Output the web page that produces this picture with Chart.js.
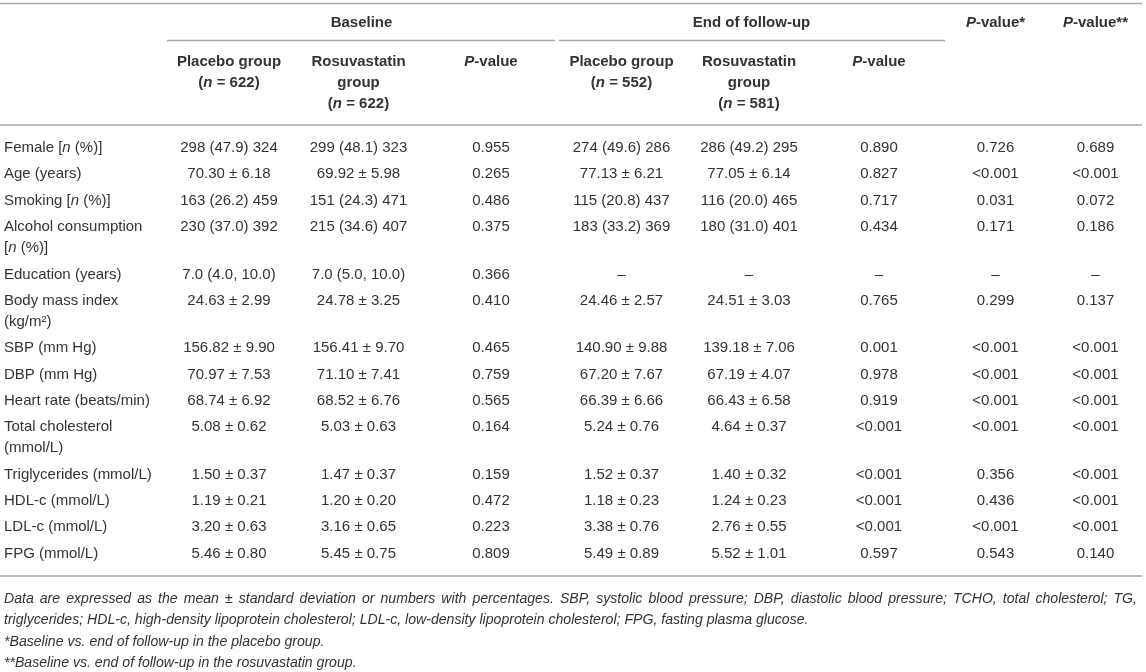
<!DOCTYPE html>
<html>
<head>
<meta charset="utf-8">
<script src="https://cdn.jsdelivr.net/npm/chart.js@4.4.1/dist/chart.umd.min.js"></script>
<style>
  html, body { margin: 0; padding: 0; background: #fff; }
</style>
</head>
<body>
<canvas id="tableChart" width="1146" height="672"></canvas>
<script>
// ---- table content (underscores mark italic text) ----
var rowLabels = [
  "Female [_n_ (%)]", "Age (years)", "Smoking [_n_ (%)]", "Alcohol consumption\n[_n_ (%)]",
  "Education (years)", "Body mass index\n(kg/m\u00b2)", "SBP (mm Hg)", "DBP (mm Hg)",
  "Heart rate (beats/min)", "Total cholesterol\n(mmol/L)", "Triglycerides (mmol/L)",
  "HDL-c (mmol/L)", "LDL-c (mmol/L)", "FPG (mmol/L)"
];
var placeboBase = ["298 (47.9) 324", "70.30 \u00b1 6.18", "163 (26.2) 459", "230 (37.0) 392", "7.0 (4.0, 10.0)", "24.63 \u00b1 2.99", "156.82 \u00b1 9.90", "70.97 \u00b1 7.53", "68.74 \u00b1 6.92", "5.08 \u00b1 0.62", "1.50 \u00b1 0.37", "1.19 \u00b1 0.21", "3.20 \u00b1 0.63", "5.46 \u00b1 0.80"];
var rosuBase = ["299 (48.1) 323", "69.92 \u00b1 5.98", "151 (24.3) 471", "215 (34.6) 407", "7.0 (5.0, 10.0)", "24.78 \u00b1 3.25", "156.41 \u00b1 9.70", "71.10 \u00b1 7.41", "68.52 \u00b1 6.76", "5.03 \u00b1 0.63", "1.47 \u00b1 0.37", "1.20 \u00b1 0.20", "3.16 \u00b1 0.65", "5.45 \u00b1 0.75"];
var pBase = ["0.955", "0.265", "0.486", "0.375", "0.366", "0.410", "0.465", "0.759", "0.565", "0.164", "0.159", "0.472", "0.223", "0.809"];
var placeboEnd = ["274 (49.6) 286", "77.13 \u00b1 6.21", "115 (20.8) 437", "183 (33.2) 369", "\u2013", "24.46 \u00b1 2.57", "140.90 \u00b1 9.88", "67.20 \u00b1 7.67", "66.39 \u00b1 6.66", "5.24 \u00b1 0.76", "1.52 \u00b1 0.37", "1.18 \u00b1 0.23", "3.38 \u00b1 0.76", "5.49 \u00b1 0.89"];
var rosuEnd = ["286 (49.2) 295", "77.05 \u00b1 6.14", "116 (20.0) 465", "180 (31.0) 401", "\u2013", "24.51 \u00b1 3.03", "139.18 \u00b1 7.06", "67.19 \u00b1 4.07", "66.43 \u00b1 6.58", "4.64 \u00b1 0.37", "1.40 \u00b1 0.32", "1.24 \u00b1 0.23", "2.76 \u00b1 0.55", "5.52 \u00b1 1.01"];
var pEnd = ["0.890", "0.827", "0.717", "0.434", "\u2013", "0.765", "0.001", "0.978", "0.919", "<0.001", "<0.001", "<0.001", "<0.001", "0.597"];
var pPlacebo = ["0.726", "<0.001", "0.031", "0.171", "\u2013", "0.299", "<0.001", "<0.001", "<0.001", "<0.001", "0.356", "0.436", "<0.001", "0.543"];
var pRosu = ["0.689", "<0.001", "0.072", "0.186", "\u2013", "0.137", "<0.001", "<0.001", "<0.001", "<0.001", "<0.001", "<0.001", "<0.001", "0.140"];

var groupHeaders = ["Baseline", "End of follow-up", "_P_-value*", "_P_-value**"];
var colHeaders = ["Placebo group\n(_n_ = 622)", "Rosuvastatin\ngroup\n(_n_ = 622)", "_P_-value",
                  "Placebo group\n(_n_ = 552)", "Rosuvastatin\ngroup\n(_n_ = 581)", "_P_-value"];
var footnotes = [
  "Data are expressed as the mean \u00b1 standard deviation or numbers with percentages. SBP, systolic blood pressure; DBP, diastolic blood pressure; TCHO, total cholesterol; TG,",
  "triglycerides; HDL-c, high-density lipoprotein cholesterol; LDL-c, low-density lipoprotein cholesterol; FPG, fasting plasma glucose.",
  "*Baseline vs. end of follow-up in the placebo group.",
  "**Baseline vs. end of follow-up in the rosuvastatin group."
];

// ---- layout ----
var W = 1146, H = 672;
var COL_WIDTHS = [166, 126, 133, 132, 129, 126, 134, 99, 101];
var TABLE_RIGHT = 1142;
var FONT = '"Liberation Sans", Arial, sans-serif';
var TEXT_COLOR = '#333333';
var RULE_COLOR = '#a8a8a8';
var LINE_GAP = 21;
var ROW_PITCH = 26.35;
var FIRST_ROW = 148;

var colLeft = [], colCenter = [];
COL_WIDTHS.reduce(function(acc, w) {
  colLeft.push(acc); colCenter.push(acc + w / 2); return acc + w;
}, 0);

// vertical position of each body row from how many lines the label has
var rowY = [];
rowLabels.reduce(function(y, lbl) {
  rowY.push(y); return y + ROW_PITCH + LINE_GAP * (lbl.split('\n').length - 1);
}, FIRST_ROW);

var bodyColumns = [placeboBase, rosuBase, pBase, placeboEnd, rosuEnd, pEnd, pPlacebo, pRosu];

function cellDataset(texts, xs, ys, opts) {
  return Object.assign({
    data: texts.map(function(t, i) { return { x: xs[i], y: ys[i] }; }),
    texts: texts, pointRadius: 0, align: 'center', bold: false, size: 15
  }, opts);
}

var datasets = [];
datasets.push(cellDataset(rowLabels, rowLabels.map(function() { return colLeft[0] + 4; }), rowY, { align: 'left' }));
bodyColumns.forEach(function(col, c) {
  datasets.push(cellDataset(col, col.map(function() { return colCenter[c + 1]; }), rowY, {}));
});
// group header row: spans of 3 columns, then single columns
var groupX = [(colLeft[1] + colLeft[4]) / 2, (colLeft[4] + colLeft[7]) / 2, colCenter[7], colCenter[8]];
datasets.push(cellDataset(groupHeaders, groupX, groupHeaders.map(function() { return 23; }), { bold: true }));
datasets.push(cellDataset(colHeaders, colHeaders.map(function(t, i) { return colCenter[i + 1]; }),
  colHeaders.map(function() { return 62; }), { bold: true }));
datasets.push(cellDataset(footnotes, footnotes.map(function() { return 4; }),
  footnotes.map(function(t, i) { return 599 + i * 21.4; }), { align: 'left', italic: true, size: 14.1, justifyFirst: TABLE_RIGHT - 5 }));

var rules = [
  { y: 3.5, x0: 0, x1: TABLE_RIGHT },
  { y: 40.5, x0: colLeft[1] + 1, x1: colLeft[4] - 2 },
  { y: 40.5, x0: colLeft[4] + 2, x1: colLeft[7] - 1 },
  { y: 125, x0: 0, x1: TABLE_RIGHT },
  { y: 576, x0: 0, x1: TABLE_RIGHT }
];

function fontFor(ds, italic) {
  return (italic ? 'italic ' : '') + (ds.bold ? 'bold ' : '') + ds.size + 'px ' + FONT;
}

// draw one line with _italic_ segments
function drawRich(ctx, ds, line, x, y, justifyTo) {
  var segs = line.split('_').map(function(s, i) { return { s: s, it: (i % 2 === 1) !== !!ds.italic }; });
  var total = 0;
  segs.forEach(function(g) { ctx.font = fontFor(ds, g.it); g.w = ctx.measureText(g.s).width; total += g.w; });
  if (justifyTo) {
    var words = line.split(' ');
    ctx.font = fontFor(ds, ds.italic);
    var wsum = 0;
    words.forEach(function(w) { wsum += ctx.measureText(w).width; });
    var gap = (justifyTo - x - wsum) / (words.length - 1);
    var cx = x;
    words.forEach(function(w) { ctx.fillText(w, cx, y); cx += ctx.measureText(w).width + gap; });
    return;
  }
  var sx = ds.align === 'left' ? x : x - total / 2;
  segs.forEach(function(g) { ctx.font = fontFor(ds, g.it); ctx.fillText(g.s, sx, y); sx += g.w; });
}

var tablePlugin = {
  id: 'tableText',
  beforeDatasetsDraw: function(chart) {
    var ctx = chart.ctx, xs = chart.scales.x, ys = chart.scales.y;
    ctx.save();
    ctx.strokeStyle = RULE_COLOR;
    ctx.lineWidth = 1.5;
    rules.forEach(function(r) {
      ctx.beginPath();
      ctx.moveTo(xs.getPixelForValue(r.x0), ys.getPixelForValue(r.y));
      ctx.lineTo(xs.getPixelForValue(r.x1), ys.getPixelForValue(r.y));
      ctx.stroke();
    });
    ctx.restore();
  },
  afterDatasetsDraw: function(chart) {
    var ctx = chart.ctx;
    ctx.save();
    ctx.fillStyle = TEXT_COLOR;
    ctx.textAlign = 'left';
    ctx.textBaseline = 'middle';
    chart.data.datasets.forEach(function(ds, di) {
      var meta = chart.getDatasetMeta(di);
      meta.data.forEach(function(pt, i) {
        ds.texts[i].split('\n').forEach(function(line, li) {
          var jt = (ds.justifyFirst && i === 0) ? ds.justifyFirst : null;
          drawRich(ctx, ds, line, pt.x, pt.y + li * LINE_GAP, jt);
        });
      });
    });
    ctx.restore();
  }
};

var tableChart = new Chart(document.getElementById('tableChart'), {
  type: 'scatter',
  data: { datasets: datasets },
  options: {
    responsive: false,
    animation: false,
    layout: { padding: 0 },
    scales: {
      x: { type: 'linear', min: 0, max: W, display: false },
      y: { type: 'linear', min: 0, max: H, reverse: true, display: false }
    },
    plugins: { legend: { display: false }, tooltip: { enabled: false } }
  },
  plugins: [tablePlugin]
});
</script>
</body>
</html>
